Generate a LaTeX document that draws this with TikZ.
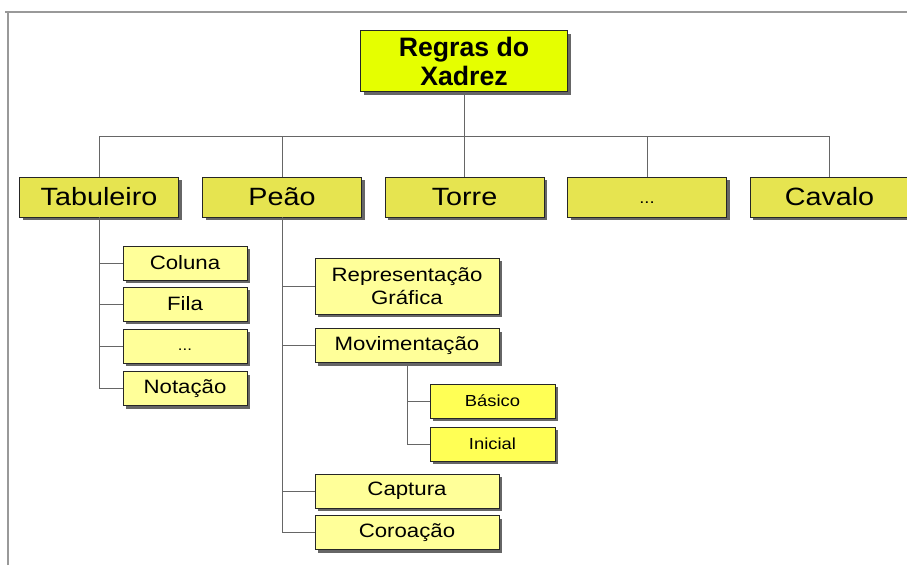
\documentclass[tikz,border=0pt]{standalone}
\usepackage{fontspec}
\setmainfont{Liberation Sans}
\newfontfamily\boxfont{Liberation Sans}[FakeStretch=1.15]
\usetikzlibrary{shadows}

\definecolor{rootyellow}{RGB}{229,255,0}
\definecolor{pieceyellow}{RGB}{230,228,80}
\definecolor{topicyellow}{RGB}{255,255,153}
\definecolor{subyellow}{RGB}{255,255,85}

\begin{document}
\begin{tikzpicture}[x=0.75pt,y=-0.75pt,
  box/.style={draw=black!85,line width=0.6pt,inner sep=0pt,align=center,
    drop shadow={shadow xshift=2.6pt,shadow yshift=-2.6pt,fill=black!60,opacity=1}},
  root/.style={box,fill=rootyellow,minimum width=155.25pt,minimum height=45.75pt,
    font=\fontsize{20}{21.75}\selectfont\bfseries},
  piece/.style={box,fill=pieceyellow,minimum width=119.25pt,minimum height=30pt,
    font=\boxfont\fontsize{18.75}{20}\selectfont},
  topic/.style={box,fill=topicyellow,minimum width=93pt,minimum height=25.5pt,
    font=\boxfont\fontsize{14.5}{17}\selectfont},
  wtopic/.style={topic,minimum width=138pt},
  sub/.style={box,fill=subyellow,minimum width=93.75pt,minimum height=25.5pt,
    font=\boxfont\fontsize{12}{14}\selectfont},
  link/.style={draw=black!60,line width=0.75pt},
  frame/.style={draw=black!40,line width=1.1pt}]
  \useasboundingbox (0,0) rectangle (907,565);
  % page frame
  \coordinate (f1) at (5,12); \coordinate (f2) at (907,12); \coordinate (f3) at (8,565);
  \draw[frame] (f1) -- (f2) (f3) |- (f1);
  % root
  \node[root] (root) at (464,61) {Regras do\\Xadrez};
  % pieces
  \node[piece] (tab) at (99,197) {Tabuleiro};
  \node[piece] (peao) at (282,197) {Peão};
  \node[piece] (torre) at (464.5,197) {Torre};
  \node[piece] (mais) at (647,197) {\vphantom{Tp}\fontsize{12}{14}\selectfont...};
  \node[piece] (cav) at (829.5,197) {Cavalo};
  % board topics
  \node[topic] (col) at (185,263) {Coluna};
  \node[topic] (fila) at (185,304) {Fila};
  \node[topic] (tabmais) at (185,346) {\vphantom{Tp}\fontsize{11}{13}\selectfont...};
  \node[topic] (nota) at (185,388.5) {Notação};
  % pawn topics
  \node[wtopic,minimum height=42pt] (repr) at (407,286) {Representação\\Gráfica};
  \node[wtopic] (movi) at (407,345.5) {Movimentação};
  \node[wtopic] (capt) at (407,491) {Captura};
  \node[wtopic] (coro) at (407,532.5) {Coroação};
  % moves
  \node[sub] (bas) at (492.5,401) {Básico};
  \node[sub] (ini) at (492.5,444) {Inicial};
  % connectors
  \coordinate (bar) at (464,136);
  \draw[link] (root.south) -- (bar);
  \foreach \n in {tab,peao,torre,mais,cav} \draw[link] (\n.north) |- (bar);
  \foreach \n in {col,fila,tabmais,nota} \draw[link] (tab.south) |- (\n.west);
  \foreach \n in {repr,movi,capt,coro} \draw[link] (peao.south) |- (\n.west);
  \foreach \n in {bas,ini} \draw[link] (movi.south) |- (\n.west);
\end{tikzpicture}
\end{document}
